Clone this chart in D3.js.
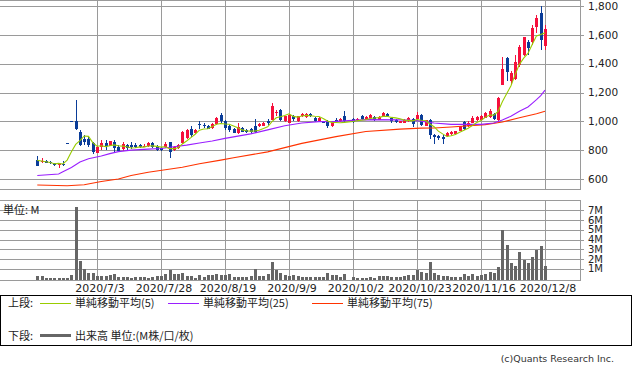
<!DOCTYPE html>
<html><head><meta charset="utf-8">
<script src="https://cdn.jsdelivr.net/npm/d3@7"></script>
<style>html,body{margin:0;padding:0;background:#fff}svg{display:block}</style>
</head><body><svg id="c" width="633" height="373"></svg>
<script>
// ---- data ----
const dates = ["2020/6/15","2020/6/16","2020/6/17","2020/6/18","2020/6/19","2020/6/22","2020/6/23","2020/6/24","2020/6/25","2020/6/26","2020/6/29","2020/6/30",
"2020/7/1","2020/7/2","2020/7/3","2020/7/6","2020/7/7","2020/7/8","2020/7/9","2020/7/10","2020/7/13","2020/7/14","2020/7/15","2020/7/16","2020/7/17",
"2020/7/20","2020/7/21","2020/7/22","2020/7/27","2020/7/28","2020/7/29","2020/7/30","2020/7/31",
"2020/8/3","2020/8/4","2020/8/5","2020/8/6","2020/8/7","2020/8/11","2020/8/12","2020/8/13","2020/8/14","2020/8/17","2020/8/18","2020/8/19",
"2020/8/20","2020/8/21","2020/8/24","2020/8/25","2020/8/26","2020/8/27","2020/8/28","2020/8/31",
"2020/9/1","2020/9/2","2020/9/3","2020/9/4","2020/9/7","2020/9/8","2020/9/9","2020/9/10","2020/9/11","2020/9/14","2020/9/15","2020/9/16","2020/9/17","2020/9/18",
"2020/9/23","2020/9/24","2020/9/25","2020/9/28","2020/9/29","2020/9/30",
"2020/10/1","2020/10/2","2020/10/5","2020/10/6","2020/10/7","2020/10/8","2020/10/9","2020/10/12","2020/10/13","2020/10/14","2020/10/15","2020/10/16",
"2020/10/19","2020/10/20","2020/10/21","2020/10/22","2020/10/23","2020/10/26","2020/10/27","2020/10/28","2020/10/29","2020/10/30",
"2020/11/2","2020/11/4","2020/11/5","2020/11/6","2020/11/9","2020/11/10","2020/11/11","2020/11/12","2020/11/13","2020/11/16",
"2020/11/17","2020/11/18","2020/11/19","2020/11/20","2020/11/24","2020/11/25","2020/11/26","2020/11/27","2020/11/30",
"2020/12/1","2020/12/2","2020/12/3","2020/12/4","2020/12/7","2020/12/8"];

const open = [735,716,728,720,711,700,706,850,1000,1005,929,880,880,847,781,824,852,828,859,824,805,835,833,835,835,830,828,852,824,812,
824,854,800,812,847,882,948,918,980,975,965,955,981,1047,1000,965,946,918,953,941,948,965,965,969,1000,1012,1055,1078,1000,988,
1035,1000,1035,1030,1054,1023,1000,1000,1000,965,1012,1000,1040,null,1016,1010,1035,1012,1023,1030,1012,1035,1054,1023,1012,988,988,1002,1018,1018,
1042,968,1007,903,898,891,896,914,910,933,995,965,988,1007,1012,1025,1030,1053,1012,1250,1440,1278,1297,1390,1459,1552,1552,1656,1749,1524];
const high = [758,745,735,722,713,713,722,850,1000,1150,941,906,900,860,830,870,870,866,870,835,854,842,854,852,845,840,858,858,835,825,
854,858,830,840,935,945,965,950,1000,990,975,985,1028,1059,1012,976,953,988,958,946,952,1016,985,992,1016,1125,1078,1087,1040,1050,
1045,1040,1060,1058,1060,1030,1028,1005,1012,992,1023,1020,1070,null,1025,1020,1042,1035,1048,1035,1035,1062,1060,1030,1018,1005,1015,1030,1025,1065,
1050,1010,1018,914,903,903,925,930,935,970,1002,1000,1035,1035,1045,1065,1085,1060,1170,1448,1448,1350,1459,1530,1587,1563,1668,1737,1800,1668];
const low = [689,712,710,706,690,678,692,850,1000,940,830,835,823,776,778,800,800,826,790,788,795,800,805,812,815,820,825,812,795,795,
816,746,795,808,845,880,894,915,945,953,945,950,975,988,941,929,918,913,925,920,920,918,960,965,976,1010,1040,1000,995,985,
1000,995,1030,1025,1030,995,995,985,953,960,990,995,988,null,988,1000,1010,1008,1020,1005,1008,1030,1030,988,990,985,985,998,960,1014,
965,965,880,845,868,845,893,902,905,930,942,960,985,1000,1005,1020,1025,1010,1005,1250,1280,1255,1290,1380,1455,1459,1529,1610,1494,1494];
const close = [690,722,714,710,694,702,700,850,1000,948,835,860,835,784,824,852,830,864,812,793,840,812,819,819,824,831,852,824,800,800,
840,788,824,835,929,941,906,941,975,970,950,981,1023,1000,953,941,922,958,929,925,925,929,981,988,988,1106,1062,1012,1035,1047,
1016,1035,1054,1054,1035,1000,1023,988,965,988,995,1016,1000,null,995,1016,1016,1030,1042,1012,1030,1059,1035,1000,995,1000,1012,1025,984,1042,
972,1007,903,891,886,877,919,925,933,965,949,988,1025,1030,1035,1060,1070,1019,1162,1366,1343,1336,1413,1517,1582,1506,1645,1714,1563,1640];
// volume in millions of shares
const volume = [0.22,0.22,0.05,0.05,0.05,0.05,0.05,0.06,0.33,7.38,1.76,1.01,0.54,0.54,0.27,0.22,0.27,0.33,0.49,0.17,0.17,0.11,0.06,0.11,0.11,0.11,0.08,0.17,0.22,0.22,
0.49,0.86,0.46,0.46,0.54,0.30,0.22,0.08,0.33,0.17,0.38,0.36,0.49,0.38,0.33,0.43,0.17,0.17,0.17,0.17,0.22,1.01,0.27,0.27,0.43,1.70,0.86,0.54,0.36,0.30,
0.33,0.22,0.19,0.19,0.17,0.17,0.17,0.17,0.54,0.36,0.36,0.17,0.43,null,0.15,0.06,0.05,0.08,0.11,0.06,0.27,0.22,0.25,0.17,0.17,0.17,0.27,0.38,0.33,0.86,
0.64,0.59,1.65,0.54,0.33,0.27,0.22,0.11,0.11,0.11,0.43,0.27,0.49,0.27,0.33,0.43,0.64,0.57,1.23,4.94,3.40,1.55,1.28,2.71,1.92,1.55,2.18,2.92,3.30,1.33];
// closes of the 4 sessions before the first visible one (estimated from the start of the 5-day line)
const priorCloses = [745,735,740,735];
// 25-day and 75-day moving averages: [session index, value]
const ma25 = [[0,624],[5,635],[6,650],[8,680],[10,718],[12,741],[15,760],[17,776],[19,790],[22,800],[26,807],[29,812],[32,824],[35,835],[38,850],[41,864],[44,882],
[50,913],[54,941],[58,969],[62,988],[66,998],[70,1000],[77,1012],[85,1010],[89,1005],[93,988],[97,979],[104,979],[107,988],[109,1010],[111,1035],[113,1070],[115,1100],[116,1125],[117,1150],[118,1178],[119,1216]];
const ma75 = [[0,558],[7,553],[11,560],[15,583],[19,600],[22,624],[26,647],[30,664],[34,682],[38,706],[43,731],[46,748],[54,788],[62,847],[70,894],[77,929],[85,946],[90,953],[93,954],[97,961],[105,977],[109,995],[113,1025],[117,1053],[119,1070]];

const xTickDates = ["2020/7/3","2020/7/28","2020/8/19","2020/9/9","2020/10/2","2020/10/23","2020/11/16","2020/12/8"];
const priceTicks = [600,800,1000,1200,1400,1600,1800];
const volTicks = [1,2,3,4,5,6,7];
const legendItems = [["単純移動平均(5)","#99cc00"],["単純移動平均(25)","#9a1fff"],["単純移動平均(75)","#ff3300"]];

// ---- drawing ----
const UP = "#f5103c", DOWN = "#0a3c98", GRID = "#9a9a9a";
const svg = d3.select("#c");
const x = d3.scaleLinear().domain([-8.74, 127.2]).range([0, 580]);
const y = d3.scaleLinear().domain([527.2, 1841.6]).range([189.5, 0]);
const yv = d3.scaleLinear().domain([0, 8]).range([278.5, 200.7]);
const idx = d => dates.indexOf(d);
const cx = i => Math.round(x(i));
const NUM = "'DejaVu Sans', sans-serif", JP = "'Noto Sans CJK JP', sans-serif";

// 5-day MA computed from closes
const allC = priorCloses.concat(close);
const ma5 = [];
{ const valid = [];
  priorCloses.forEach(v => valid.push(v));
  close.forEach((c, i) => { if (c == null) return; valid.push(c);
    const last = valid.slice(-5); ma5.push([i, d3.mean(last)]); });
}

const g = svg.append("g").attr("shape-rendering", "crispEdges");
// main panel grid
priceTicks.forEach(p => {
  const yy = Math.round(y(p)) + 0.5;
  g.append("line").attr("x1", 0).attr("x2", 584).attr("y1", yy).attr("y2", yy).attr("stroke", GRID);
});
xTickDates.forEach(d => {
  const xx = cx(idx(d)) + 0.5;
  g.append("line").attr("x1", xx).attr("x2", xx).attr("y1", 0).attr("y2", 189.5).attr("stroke", GRID);
  g.append("line").attr("x1", xx).attr("x2", xx).attr("y1", 200.7).attr("y2", 280.5).attr("stroke", GRID);
});
g.append("line").attr("x1", 0).attr("x2", 580.5).attr("y1", 0.5).attr("y2", 0.5).attr("stroke", GRID);
g.append("line").attr("x1", 0).attr("x2", 580.5).attr("y1", 189.5).attr("y2", 189.5).attr("stroke", GRID);
g.append("line").attr("x1", 580.5).attr("x2", 580.5).attr("y1", 0).attr("y2", 189.5).attr("stroke", GRID);
// volume panel grid
volTicks.forEach(v => {
  const yy = Math.round(yv(v)) + 0.5;
  g.append("line").attr("x1", 0).attr("x2", 584).attr("y1", yy).attr("y2", yy).attr("stroke", GRID);
});
g.append("line").attr("x1", 0).attr("x2", 580.5).attr("y1", 200.5).attr("y2", 200.5).attr("stroke", GRID);
g.append("line").attr("x1", 0).attr("x2", 580.5).attr("y1", 280.5).attr("y2", 280.5).attr("stroke", GRID);
g.append("line").attr("x1", 580.5).attr("x2", 580.5).attr("y1", 200.5).attr("y2", 280.5).attr("stroke", GRID);

// candles
dates.forEach((d, i) => {
  if (open[i] == null) return;
  const col = close[i] > open[i] ? UP : DOWN;
  const c = cx(i);
  const yh = Math.round(y(high[i])), yl = Math.round(y(low[i]));
  g.append("rect").attr("x", c).attr("y", yh).attr("width", 1).attr("height", Math.max(1, yl - yh)).attr("fill", col);
  const yt = Math.round(y(Math.max(open[i], close[i]))), yb = Math.round(y(Math.min(open[i], close[i])));
  g.append("rect").attr("x", c - 1).attr("y", yt).attr("width", 3).attr("height", Math.max(1, yb - yt)).attr("fill", col);
});

// volume bars
volume.forEach((v, i) => {
  if (v == null) return;
  const top = Math.round(yv(v));
  g.append("rect").attr("x", cx(i) - 1).attr("y", top).attr("width", 3).attr("height", Math.max(1, 280 - top)).attr("fill", "#666");
});

// moving averages
const line = d3.line().x(p => x(p[0])).y(p => y(p[1]));
[[ma75, "#ff3300"], [ma25, "#9a1fff"], [ma5, "#99cc00"]].forEach(([pts, col]) => {
  svg.append("path").attr("d", line(pts)).attr("fill", "none").attr("stroke", col).attr("stroke-width", 1.1);
});

// axis labels
const t = svg.append("g").attr("fill", "#222");
priceTicks.forEach(p => {
  t.append("text").attr("x", 588).attr("y", y(p)).attr("dy", "0.36em").attr("font-family", NUM).attr("font-size", 10.5).text(d3.format(",")(p));
});
volTicks.forEach(v => {
  t.append("text").attr("x", 588).attr("y", yv(v)).attr("dy", "0.36em").attr("font-family", NUM).attr("font-size", 10).text(v + "M");
});
xTickDates.forEach(d => {
  t.append("text").attr("x", cx(idx(d)) + 3).attr("y", 291.5).attr("text-anchor", "middle").attr("font-family", NUM).attr("font-size", 11).text(d);
});
t.append("text").attr("x", 3).attr("y", 213.5).attr("font-family", JP).attr("font-size", 11).text("単位: M");

// legend
svg.append("rect").attr("x", 0.5).attr("y", 295.5).attr("width", 631).attr("height", 50).attr("fill", "none").attr("stroke", "#000").attr("shape-rendering", "crispEdges");
t.append("text").attr("x", 8).attr("y", 307).attr("font-family", JP).attr("font-size", 11).text("上段:");
const lx = [40, 168, 312];
legendItems.forEach(([lab, col], k) => {
  svg.append("line").attr("x1", lx[k]).attr("x2", lx[k] + 31).attr("y1", 303.5).attr("y2", 303.5).attr("stroke", col).attr("shape-rendering", "crispEdges");
  t.append("text").attr("x", lx[k] + 35).attr("y", 307).attr("font-family", JP).attr("font-size", 11).text(lab);
});
t.append("text").attr("x", 8).attr("y", 339.5).attr("font-family", JP).attr("font-size", 11).text("下段:");
svg.append("line").attr("x1", 40).attr("x2", 71).attr("y1", 335.5).attr("y2", 335.5).attr("stroke", "#666").attr("stroke-width", 3);
t.append("text").attr("x", 75).attr("y", 339.5).attr("font-family", JP).attr("font-size", 11).text("出来高 単位:(M株/口/枚)");
t.append("text").attr("x", 614).attr("y", 361.5).attr("text-anchor", "end").attr("font-family", NUM).attr("font-size", 9.5).attr("fill", "#333").text("(c)Quants Research Inc.");
</script></body></html>
